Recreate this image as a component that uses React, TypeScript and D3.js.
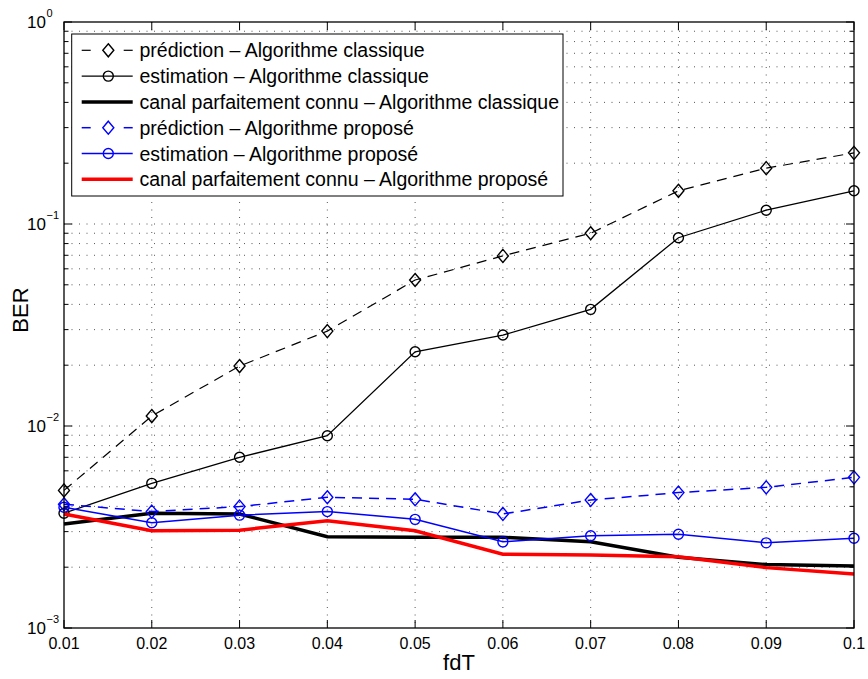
import React from "react";
import * as d3 from "d3";

const fdT = [0.01, 0.02, 0.03, 0.04, 0.05, 0.06, 0.07, 0.08, 0.09, 0.1];
const xTickLabels = ["0.01", "0.02", "0.03", "0.04", "0.05", "0.06", "0.07", "0.08", "0.09", "0.1"];
const yDecades = [1e-3, 1e-2, 1e-1, 1];
const yExponents = ["\u22123", "\u22122", "\u22121", "0"];

const predClassique = [0.0048, 0.0112, 0.0198, 0.0295, 0.0528, 0.0695, 0.09, 0.146, 0.189, 0.225];
const estClassique = [0.0037, 0.0052, 0.007, 0.00895, 0.0233, 0.0282, 0.0378, 0.0855, 0.117, 0.146];
const parfaitClassique = [0.00327, 0.0037, 0.00367, 0.00283, 0.00281, 0.00281, 0.00267, 0.00224, 0.00206, 0.00203];
const predPropose = [0.0041, 0.00377, 0.00399, 0.00444, 0.00434, 0.00367, 0.0043, 0.00468, 0.00497, 0.00557];
const estPropose = [0.00396, 0.00332, 0.00362, 0.00377, 0.00345, 0.00267, 0.00286, 0.00291, 0.00264, 0.00278];
const parfaitPropose = [0.00367, 0.00303, 0.00305, 0.0034, 0.00303, 0.00232, 0.0023, 0.00225, 0.00199, 0.00185];

const legendLabels = [
  "prédiction – Algorithme classique",
  "estimation – Algorithme classique",
  "canal parfaitement connu – Algorithme classique",
  "prédiction – Algorithme proposé",
  "estimation – Algorithme proposé",
  "canal parfaitement connu – Algorithme proposé",
];

type Series = {
  values: number[];
  color: string;
  width: number;
  dash?: string;
  marker?: "diamond" | "circle";
};

const series: Series[] = [
  { values: predClassique, color: "#000", width: 1.2, dash: "10,7", marker: "diamond" },
  { values: estClassique, color: "#000", width: 1.3, marker: "circle" },
  { values: parfaitClassique, color: "#000", width: 3.5 },
  { values: predPropose, color: "#0000ff", width: 1.5, dash: "10,7", marker: "diamond" },
  { values: estPropose, color: "#0000ff", width: 1.5, marker: "circle" },
  { values: parfaitPropose, color: "#ff0000", width: 3.5 },
];

const FONT = "'Liberation Sans', Arial, Helvetica, sans-serif";

function Marker({ type, x, y, color }: { type?: string; x: number; y: number; color: string }) {
  if (type === "circle") {
    return <circle cx={x} cy={y} r={5} fill="none" stroke={color} strokeWidth={1.4} />;
  }
  if (type === "diamond") {
    const w = 5.5, h = 6.5;
    return (
      <path
        d={`M${x},${y - h}L${x + w},${y}L${x},${y + h}L${x - w},${y}Z`}
        fill="none"
        stroke={color}
        strokeWidth={1.4}
      />
    );
  }
  return null;
}

export default function App() {
  const W = 868, H = 679;
  const left = 64, right = 854, top = 22, bottom = 628;
  const x = d3.scaleLinear().domain([0.01, 0.1]).range([left, right]);
  const y = d3.scaleLog().domain([1e-3, 1]).range([bottom, top]);

  const minor: number[] = [];
  for (let e = -3; e < 0; e++) {
    for (let m = 2; m <= 9; m++) minor.push(m * Math.pow(10, e));
  }

  const line = d3
    .line<number>()
    .x((_, i) => x(fdT[i]))
    .y((d) => y(d));

  const gridStyle = { stroke: "#444", strokeWidth: 0.9, strokeDasharray: "1,6.5" };

  const legX0 = 71.7, legY0 = 34, legX1 = 563, legY1 = 196;
  const rowY0 = 50.3, rowStep = 25.8;

  return (
    <svg
      width={W}
      height={H}
      style={{ position: "absolute", left: 0, top: 0, background: "#fff" }}
      fontFamily={FONT}
    >
      <rect x={0} y={0} width={W} height={H} fill="#fff" />
      {/* grid */}
      {fdT.slice(1, -1).map((v, i) => (
        <line key={"gx" + i} x1={x(v)} x2={x(v)} y1={top} y2={bottom} {...gridStyle} />
      ))}
      {yDecades.slice(1, -1).concat(minor).map((v, i) => (
        <line key={"gy" + i} x1={left} x2={right} y1={y(v)} y2={y(v)} {...gridStyle} />
      ))}

      {/* series */}
      {series.map((s, i) => (
        <g key={"s" + i}>
          <path
            d={line(s.values) || ""}
            fill="none"
            stroke={s.color}
            strokeWidth={s.width}
            strokeDasharray={s.dash}
            strokeLinejoin="miter"
          />
          {s.marker &&
            s.values.map((v, j) => (
              <Marker key={j} type={s.marker} x={x(fdT[j])} y={y(v)} color={s.color} />
            ))}
        </g>
      ))}

      {/* legend */}
      <rect x={legX0} y={legY0} width={legX1 - legX0} height={legY1 - legY0} fill="#fff" stroke="#000" strokeWidth={1} />
      {series.map((s, i) => {
        const cy = rowY0 + i * rowStep;
        const lx0 = 81.7, lx1 = 132.7, mx = 108.3;
        return (
          <g key={"l" + i}>
            {s.dash ? (
              <>
                <line x1={lx0} x2={lx0 + 9} y1={cy} y2={cy} stroke={s.color} strokeWidth={s.width} />
                <line x1={lx1 - 9} x2={lx1} y1={cy} y2={cy} stroke={s.color} strokeWidth={s.width} />
              </>
            ) : (
              <line x1={lx0} x2={lx1} y1={cy} y2={cy} stroke={s.color} strokeWidth={s.width} />
            )}
            <Marker type={s.marker} x={mx} y={cy} color={s.color} />
            <text x={139.5} y={cy + 7} fontSize={19.5} fill="#000">
              {legendLabels[i]}
            </text>
          </g>
        );
      })}

      {/* axes box */}
      <rect x={left} y={top} width={right - left} height={bottom - top} fill="none" stroke="#000" strokeWidth={1.3} />
      {/* x ticks */}
      {fdT.map((v, i) => (
        <g key={"xt" + i}>
          <line x1={x(v)} x2={x(v)} y1={bottom} y2={bottom - 8} stroke="#000" strokeWidth={1} />
          <line x1={x(v)} x2={x(v)} y1={top} y2={top + 8} stroke="#000" strokeWidth={1} />
          <text x={x(v)} y={648.5} fontSize={16} textAnchor="middle" fill="#000">
            {xTickLabels[i]}
          </text>
        </g>
      ))}
      {/* y ticks */}
      {yDecades.map((v, i) => (
        <g key={"yt" + i}>
          <line x1={left} x2={left + 8} y1={y(v)} y2={y(v)} stroke="#000" strokeWidth={1} />
          <line x1={right} x2={right - 8} y1={y(v)} y2={y(v)} stroke="#000" strokeWidth={1} />
          <text x={46} y={y(v) + 6.3} fontSize={17} textAnchor="end" fill="#000">
            10
          </text>
          <text x={46.5} y={y(v) - 4.7} fontSize={11} textAnchor="start" fill="#000">
            {yExponents[i]}
          </text>
        </g>
      ))}
      {minor.map((v, i) => (
        <g key={"ym" + i}>
          <line x1={left} x2={left + 4.5} y1={y(v)} y2={y(v)} stroke="#000" strokeWidth={1} />
          <line x1={right} x2={right - 4.5} y1={y(v)} y2={y(v)} stroke="#000" strokeWidth={1} />
        </g>
      ))}

      {/* axis labels */}
      <text x={(left + right) / 2} y={670} fontSize={22} textAnchor="middle" fill="#000">
        fdT
      </text>
      <text
        transform={`translate(28,310) rotate(-90)`}
        fontSize={22}
        textAnchor="middle"
        fill="#000"
      >
        BER
      </text>
    </svg>
  );
}
